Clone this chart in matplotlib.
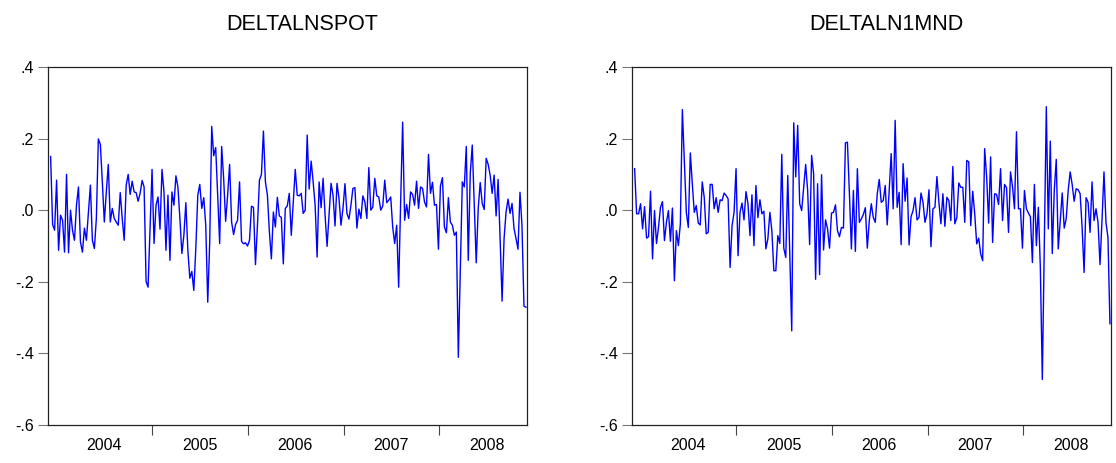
import matplotlib
matplotlib.use("Agg")
import matplotlib.pyplot as plt
import pandas as pd

plt.rcParams['font.family'] = ['Liberation Sans', 'DejaVu Sans']

titles = ["DELTALNSPOT", "DELTALN1MND"]

spot = [
    0.15, -0.04, -0.056, 0.084, -0.112, -0.014, -0.028, -0.117, 0.10, -0.119,
    0.0, -0.056, -0.084, 0.014, 0.065, -0.089, -0.117, -0.05, -0.084, -0.005,
    0.07, -0.084, -0.107, -0.023, 0.199, 0.184, 0.079, -0.033, 0.051, 0.128,
    -0.033, 0.005, -0.023, -0.033, -0.042, 0.049, -0.023, -0.084, 0.07, 0.10,
    0.044, 0.081, 0.051, 0.049, 0.025, 0.047, 0.083, 0.065, -0.199, -0.215,
    -0.051, 0.114, -0.093, 0.014, 0.037, -0.053, 0.114, 0.051, -0.112, 0.042,
    -0.14, 0.051, 0.014, 0.096, 0.065, -0.023, -0.121, -0.07, 0.021, -0.112,
    -0.19, -0.171, -0.224, -0.107, 0.042, 0.072, 0.005, 0.035, -0.042, -0.257,
    -0.089, 0.234, 0.152, 0.175, 0.042, -0.093, 0.178, 0.089, -0.031, 0.042,
    0.128, -0.033, -0.068, -0.04, -0.028, 0.079, -0.087, -0.094, -0.091, -0.10,
    -0.084, 0.011, 0.008, -0.152, -0.042, 0.084, 0.10, 0.221, 0.079, 0.042,
    -0.061, -0.136, -0.005, -0.047, 0.036, -0.016, -0.02, -0.15, 0.005, 0.012,
    0.047, -0.07, 0.023, 0.114, 0.042, 0.04, 0.047, -0.009, 0.0, 0.21,
    0.059, 0.137, 0.079, 0.014, -0.131, 0.079, 0.007, 0.089, -0.014, -0.101,
    -0.014, 0.075, 0.042, -0.044, 0.075, 0.033, -0.042, 0.005, 0.074, -0.009,
    -0.025, 0.014, 0.061, 0.063, -0.05, 0.003, -0.023, 0.04, 0.023, -0.023,
    0.119, 0.0, 0.009, 0.089, 0.04, 0.037, 0.0, 0.012, 0.084, 0.021,
    0.028, 0.037, -0.047, -0.093, -0.042, -0.215, 0.023, 0.246, -0.028, 0.016,
    -0.023, 0.051, 0.044, 0.014, 0.081, 0.005, 0.065, 0.061, 0.023, 0.009,
    0.156, 0.047, 0.078, 0.014, 0.016, -0.109, 0.068, 0.091, -0.047, -0.063,
    0.035, -0.033, -0.042, -0.07, -0.061, -0.411, -0.164, 0.079, 0.065, 0.178,
    -0.14, 0.103, 0.182, 0.014, -0.147, 0.005, 0.077, 0.019, 0.002, 0.145,
    0.128, 0.098, 0.047, 0.098, -0.016, 0.086, -0.079, -0.254, -0.079, -0.005,
    0.031, -0.009, 0.019, -0.051, -0.079, -0.109, 0.05, -0.042, -0.268, -0.271,
]

onemnd = [
    0.116, -0.01, -0.01, 0.018, -0.052, 0.01, -0.078, -0.074, 0.053, -0.136,
    -0.001, -0.093, -0.048, 0.008, 0.024, -0.085, -0.034, -0.001, -0.087, 0.006,
    -0.197, -0.057, -0.099, -0.038, 0.281, 0.139, -0.006, -0.048, 0.16, 0.074,
    -0.006, 0.013, -0.036, -0.041, 0.079, 0.036, -0.066, -0.062, 0.072, 0.072,
    0.004, 0.035, -0.006, 0.029, 0.027, 0.048, 0.041, 0.032, -0.16, -0.043,
    -0.006, 0.116, -0.127, -0.006, 0.02, -0.027, 0.052, 0.018, -0.071, 0.043,
    -0.099, 0.069, -0.021, 0.029, -0.01, -0.003, -0.108, -0.08, -0.006, -0.057,
    -0.169, -0.169, -0.071, -0.093, 0.156, -0.106, -0.132, 0.097, -0.12, -0.337,
    0.244, 0.093, 0.237, 0.018, -0.001, 0.064, 0.128, 0.055, -0.096, 0.153,
    0.102, -0.193, 0.074, -0.18, 0.099, -0.111, -0.027, -0.052, -0.106, -0.008,
    -0.006, 0.015, -0.057, -0.074, -0.048, -0.05, 0.188, 0.19, 0.046, -0.108,
    0.055, -0.115, 0.116, -0.034, -0.024, -0.012, 0.007, -0.106, -0.029, 0.018,
    -0.02, -0.034, 0.046, 0.086, 0.022, 0.027, 0.069, -0.041, 0.055, 0.158,
    0.004, 0.251, 0.008, 0.05, -0.096, 0.13, 0.025, 0.09, -0.097, -0.018,
    -0.001, 0.035, -0.027, -0.02, 0.048, 0.022, -0.034, -0.01, 0.057, -0.102,
    0.004, 0.008, 0.094, 0.022, -0.038, 0.046, -0.045, 0.036, 0.027, -0.029,
    0.122, -0.038, -0.021, 0.076, 0.064, 0.064, -0.034, 0.139, 0.135, -0.043,
    0.053, -0.01, -0.094, -0.078, -0.122, -0.141, 0.172, 0.093, -0.036, 0.149,
    -0.09, 0.046, 0.044, 0.016, 0.116, -0.029, 0.072, 0.063, -0.062, 0.107,
    0.066, 0.004, 0.219, 0.004, 0.004, -0.106, 0.055, 0.004, -0.008, -0.018,
    -0.146, 0.072, -0.099, 0.008, -0.16, -0.473, -0.094, 0.289, -0.052, 0.193,
    -0.121, 0.055, 0.142, -0.108, -0.029, 0.048, -0.05, -0.024, 0.055, 0.107,
    0.072, 0.025, 0.06, 0.057, 0.046, -0.048, -0.174, 0.035, 0.022, -0.062,
    0.079, -0.029, 0.004, -0.034, -0.152, -0.029, 0.107, -0.034, -0.076, -0.317,
]

ytick_vals = [0.4, 0.2, 0.0, -0.2, -0.4, -0.6]
ytick_labels = [".4", ".2", ".0", "-.2", "-.4", "-.6"]
years = [2004, 2005, 2006, 2007, 2008]

dates = pd.date_range("2003-12-09", "2008-11-28", periods=len(spot))

fig = plt.figure(figsize=(11.16, 4.63), dpi=100)
W, H = 1116, 463
axes_px = [(48, 67, 479, 358), (632, 67, 479, 358)]

for (x0, y0, w, h), title, series in zip(axes_px, titles, [spot, onemnd]):
    ax = fig.add_axes([x0 / W, 1 - (y0 + h) / H, w / W, h / H])
    ax.plot(dates, series, color="#0000ff", linewidth=1.0)
    ax.set_ylim(-0.6, 0.4)
    ax.set_xlim(pd.Timestamp("2003-11-29"), pd.Timestamp("2008-12-02"))
    ax.set_yticks(ytick_vals)
    ax.set_yticklabels(ytick_labels)
    ax.set_xticks([pd.Timestamp(f"{y}-01-01") for y in years[1:]])
    ax.set_xticklabels([])
    ax.set_xticks([pd.Timestamp(f"{y}-07-01") for y in years], minor=True)
    ax.set_xticklabels([str(y) for y in years], minor=True)
    ax.tick_params(axis="x", which="major", length=7, width=0.8, color="#444444", direction="out")
    ax.tick_params(axis="x", which="minor", length=0, labelsize=11.5, pad=9)
    ax.tick_params(axis="y", length=7, width=0.8, color="#777777", labelsize=11.5, pad=3)
    for s in ax.spines.values():
        s.set_linewidth(0.9)
        s.set_color("#222222")
    fig.text((x0 + w / 2 + 15) / W, 1 - 25 / H, title, fontsize=15.5,
             ha="center", va="center")

fig.savefig("out.png", dpi=100)
